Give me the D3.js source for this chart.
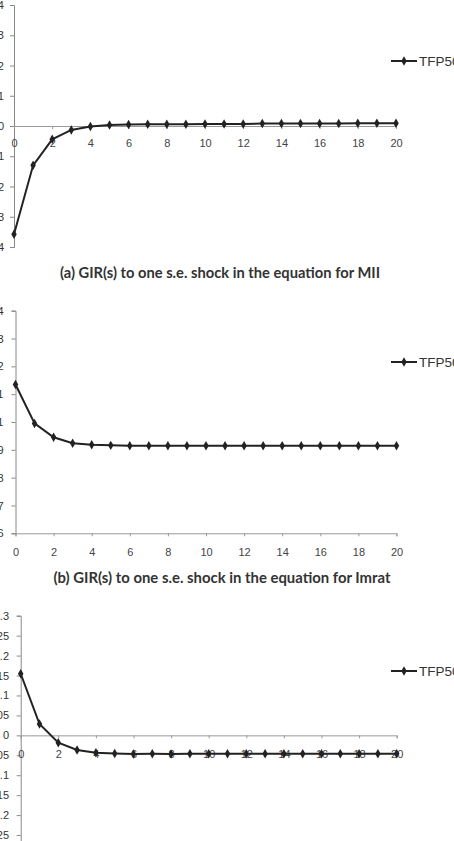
<!DOCTYPE html>
<html>
<head>
<meta charset="utf-8">
<script src="https://cdn.jsdelivr.net/npm/d3@7"></script>
<style>
  html, body { margin: 0; padding: 0; background: #fff; }
  svg { display: block; }
</style>
</head>
<body>
<svg id="chart"></svg>
<script>
var width = 454, height = 841;

// horizon (periods after shock)
var periods = [0, 1, 2, 3, 4, 5, 6, 7, 8, 9, 10, 11, 12, 13, 14, 15, 16, 17, 18, 19, 20];
var xTicks = [0, 2, 4, 6, 8, 10, 12, 14, 16, 18, 20];
var seriesName = "TFP50";

// (a) shock in the equation for MII
var respMII = [-0.0358, -0.0130, -0.0044, -0.0013, -0.0002, 0.0003, 0.0005, 0.0006, 0.0006, 0.0006,
               0.0007, 0.0007, 0.0007, 0.0008, 0.0008, 0.0008, 0.0008, 0.0008, 0.0009, 0.0009, 0.0009];
var ticksMII = [-0.04, -0.03, -0.02, -0.01, 0, 0.01, 0.02, 0.03, 0.04];

// (b) shock in the equation for Imrat
var respImrat = [0.01135, 0.00995, 0.00945, 0.00924, 0.00918, 0.00916, 0.00915, 0.00915, 0.00915, 0.00915,
                 0.00915, 0.00915, 0.00915, 0.00915, 0.00915, 0.00915, 0.00915, 0.00915, 0.00915, 0.00915, 0.00915];
var ticksImrat = [0.006, 0.007, 0.008, 0.009, 0.01, 0.011, 0.012, 0.013, 0.014];

// (c) third panel
var respC = [0.1544, 0.0283, -0.0185, -0.0368, -0.0435, -0.0455, -0.0465, -0.046, -0.0465, -0.046,
             -0.046, -0.046, -0.046, -0.046, -0.046, -0.046, -0.046, -0.046, -0.046, -0.046, -0.046];
var ticksC = [-0.3, -0.25, -0.2, -0.15, -0.1, -0.05, 0, 0.05, 0.1, 0.15, 0.2, 0.25, 0.3];

var svg = d3.select("#chart").attr("width", width).attr("height", height);

var lineColor = "#222";
var axisColor = "#999";
var tickFont = "Liberation Sans, Arial, sans-serif";

var panels = [
  { values: respMII, ticks: ticksMII, domain: [-0.04, 0.04],
    x0: 14, x1: 396, yTop: 5, yBot: 247, xAxisAt: 0, labelEnd: 4, xLabelBase: 147,
    legendY: 61, title: "(a) GIR(s) to one s.e. shock in the equation for MII", titleY: 278, titleX: 220, titleW: 320 },
  { values: respImrat, ticks: ticksImrat, domain: [0.006, 0.014],
    x0: 15.5, x1: 396.5, yTop: 310.7, yBot: 533.3, xAxisAt: 0.006, labelEnd: 3.5, xLabelBase: 556,
    legendY: 362, title: "(b) GIR(s) to one s.e. shock in the equation for Imrat", titleY: 583, titleX: 222, titleW: 337 },
  { values: respC, ticks: ticksC, domain: [-0.3, 0.3],
    x0: 20.7, x1: 396.7, yTop: 615.7, yBot: 855, xAxisAt: 0, labelEnd: 9, xLabelBase: 758,
    legendY: 671, title: null }
];

var diamond = d3.symbol().type(d3.symbolDiamond).size(26);
var fmt = d => String(+d.toFixed(4));

panels.forEach(function(p){
  var x = d3.scaleLinear().domain([0, 20]).range([p.x0, p.x1]);
  var y = d3.scaleLinear().domain(p.domain).range([p.yBot, p.yTop]);
  var g = svg.append("g");

  // y axis
  var yAxis = g.append("g").attr("transform", "translate(" + p.x0 + ",0)")
      .call(d3.axisLeft(y).tickValues(p.ticks).tickSize(4).tickFormat(fmt)
            .tickPadding(p.x0 - 4 - p.labelEnd));
  yAxis.select(".domain").attr("stroke", "#888");
  yAxis.selectAll(".tick line").attr("stroke", "#888");
  yAxis.selectAll("text").attr("font-family", tickFont).attr("font-size", 11).attr("fill", "#333");

  // x axis (crossing at xAxisAt)
  var ax = y(p.xAxisAt);
  var xAxis = g.append("g").attr("transform", "translate(0," + ax + ")")
      .call(d3.axisBottom(x).tickValues(xTicks).tickSize(3).tickSizeOuter(3).tickFormat(d3.format("d"))
            .tickPadding(p.xLabelBase - ax - 3 - 7.8));
  xAxis.select(".domain").attr("stroke", axisColor);
  xAxis.selectAll(".tick line").attr("stroke", axisColor);
  xAxis.selectAll("text").attr("font-family", tickFont).attr("font-size", 11).attr("fill", "#444");

  // series
  var data = periods.map((t, i) => ({ t: t, v: p.values[i] }));
  var line = d3.line().x(d => x(d.t)).y(d => y(d.v));
  g.append("path").datum(data)
      .attr("d", line).attr("fill", "none")
      .attr("stroke", lineColor).attr("stroke-width", 2);
  g.selectAll(".pt").data(data).enter().append("path")
      .attr("class", "pt")
      .attr("transform", d => "translate(" + x(d.t) + "," + y(d.v) + ")")
      .attr("d", diamond).attr("fill", lineColor);

  // legend
  var lg = g.append("g").attr("transform", "translate(391," + p.legendY + ")");
  lg.append("line").attr("x1", 0).attr("x2", 26).attr("stroke", lineColor).attr("stroke-width", 2);
  lg.append("path").attr("transform", "translate(13,0)").attr("d", diamond).attr("fill", lineColor);
  lg.append("text").attr("x", 28).attr("y", 4.8)
      .attr("font-family", tickFont).attr("font-size", 13.5).attr("fill", "#333")
      .text(seriesName);

  // caption
  if (p.title) {
    svg.append("text").attr("x", p.titleX).attr("y", p.titleY)
      .attr("text-anchor", "middle")
      .attr("font-family", "Lato, Open Sans, sans-serif").attr("font-weight", 700)
      .attr("font-size", 14.5).attr("fill", "#333")
      .attr("textLength", p.titleW).attr("lengthAdjust", "spacingAndGlyphs")
      .text(p.title);
  }
});
</script>
</body>
</html>
